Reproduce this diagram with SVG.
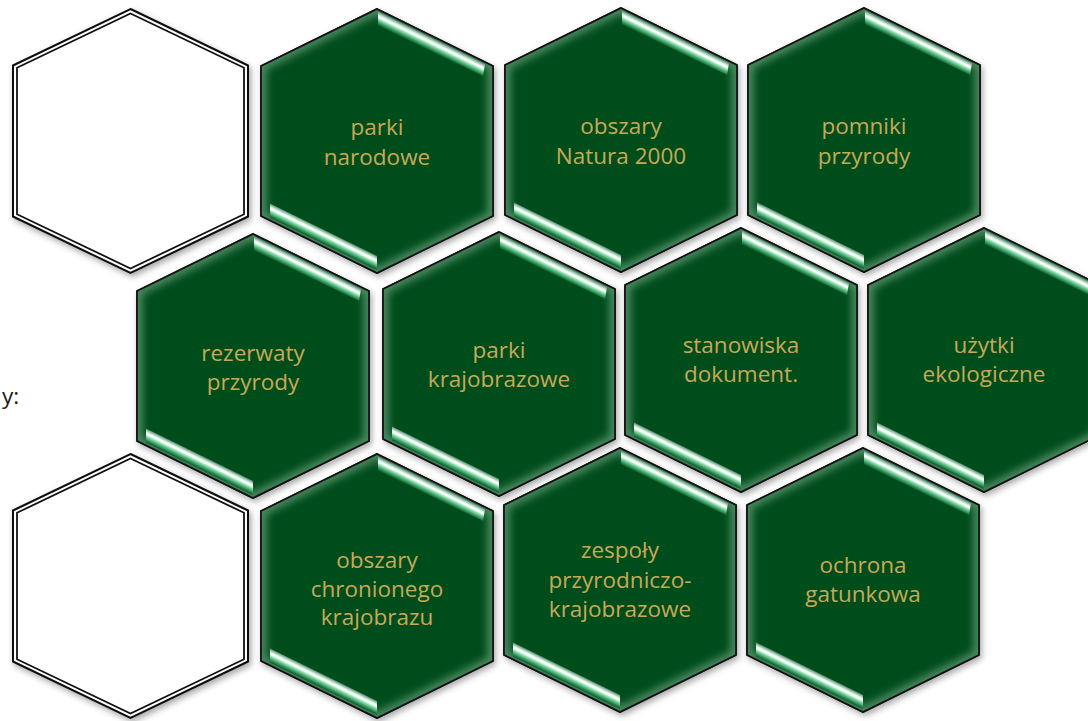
<svg xmlns="http://www.w3.org/2000/svg" width="1088" height="721" viewBox="0 0 1088 721">
<defs>
  <style>
    .hex{fill:#044e1f;stroke:#111;stroke-width:1.6}
    .glow{fill:none;stroke:#b9e3c6;stroke-width:10;opacity:0.45}
    .wout{fill:#fff;stroke:#111;stroke-width:2}
    .win{fill:none;stroke:#111;stroke-width:1.8}
    .lbl{font-family:"Open Sans","Liberation Sans",sans-serif;font-size:22.5px;fill:#c8a958;text-anchor:middle}
    .side{font-family:"Open Sans","Liberation Sans",sans-serif;font-size:22.5px;fill:#1a1a1a}
  </style>
  <polygon id="hexshape" points="0,-132 116,-75 116,75 0,132 -116,75 -116,-75"/>
  <clipPath id="hexclip" clipPathUnits="userSpaceOnUse">
    <use href="#hexshape"/>
  </clipPath>
  <filter id="shadow" x="-20%" y="-20%" width="140%" height="140%">
    <feDropShadow dx="2" dy="3" stdDeviation="3" flood-color="#000" flood-opacity="0.35"/>
  </filter>
  <filter id="blur" x="-20%" y="-20%" width="140%" height="140%">
    <feGaussianBlur stdDeviation="4"/>
  </filter>
  <linearGradient id="gup" gradientUnits="userSpaceOnUse" x1="54" y1="-103.5" x2="48.45" y2="-92.2">
    <stop offset="0" stop-color="#5d8c72"/>
    <stop offset="0.28" stop-color="#e6fff0"/>
    <stop offset="0.4" stop-color="#ffffff"/>
    <stop offset="0.55" stop-color="#8fe0b0"/>
    <stop offset="0.8" stop-color="#34975c"/>
    <stop offset="1" stop-color="#0a5628"/>
  </linearGradient>
  <linearGradient id="gdn" gradientUnits="userSpaceOnUse" x1="-58" y1="86.5" x2="-63.55" y2="97.8">
    <stop offset="0" stop-color="#5d8c72"/>
    <stop offset="0.28" stop-color="#e6fff0"/>
    <stop offset="0.4" stop-color="#ffffff"/>
    <stop offset="0.55" stop-color="#8fe0b0"/>
    <stop offset="0.8" stop-color="#34975c"/>
    <stop offset="1" stop-color="#0a5628"/>
  </linearGradient>
  <g id="greenhex">
    <use href="#hexshape" class="hex" filter="url(#shadow)"/>
    <g clip-path="url(#hexclip)">
      <use href="#hexshape" class="glow" filter="url(#blur)"/>
    </g>
    <use href="#hexshape" fill="none" stroke="#111" stroke-width="1.6"/>
    <polygon points="1,-129.5 108,-77 106,-64.9 1,-115.5" fill="url(#gup)"/>
    <polygon points="-107,62.4 0,115 0,129 -107,76.4" fill="url(#gdn)"/>
  </g>
  <g id="whitehex">
    <polygon class="wout" filter="url(#shadow)" points="0,-132 117.5,-75.5 117.5,75.5 0,132 -117.5,75.5 -117.5,-75.5"/>
    <polygon class="win" points="0,-127.5 113.5,-73.2 113.5,73.2 0,127.5 -113.5,73.2 -113.5,-73.2"/>
  </g>
</defs>
<rect width="1088" height="721" fill="#fff"/>

<g id="blank-1"><use href="#whitehex" transform="translate(130.5,141)"/></g>
<g id="parki-narodowe">
  <use href="#greenhex" transform="translate(377,141)"/>
  <text class="lbl" x="377" y="135">parki</text>
  <text class="lbl" x="377" y="165">narodowe</text>
</g>
<g id="natura-2000">
  <use href="#greenhex" transform="translate(621,140)"/>
  <text class="lbl" x="621" y="134">obszary</text>
  <text class="lbl" x="621" y="164">Natura 2000</text>
</g>
<g id="pomniki-przyrody">
  <use href="#greenhex" transform="translate(864,140)"/>
  <text class="lbl" x="864" y="134">pomniki</text>
  <text class="lbl" x="864" y="164">przyrody</text>
</g>

<g id="rezerwaty-przyrody">
  <use href="#greenhex" transform="translate(253,366)"/>
  <text class="lbl" x="253" y="361">rezerwaty</text>
  <text class="lbl" x="253" y="390">przyrody</text>
</g>
<g id="parki-krajobrazowe">
  <use href="#greenhex" transform="translate(499,364)"/>
  <text class="lbl" x="499" y="358">parki</text>
  <text class="lbl" x="499" y="387">krajobrazowe</text>
</g>
<g id="stanowiska-dokumentacyjne">
  <use href="#greenhex" transform="translate(741,360)"/>
  <text class="lbl" x="741" y="353">stanowiska</text>
  <text class="lbl" x="741" y="382">dokument.</text>
</g>
<g id="uzytki-ekologiczne">
  <use href="#greenhex" transform="translate(984,360)"/>
  <text class="lbl" x="984" y="353">użytki</text>
  <text class="lbl" x="984" y="382">ekologiczne</text>
</g>

<g id="blank-2"><use href="#whitehex" transform="translate(130.5,586)"/></g>
<g id="obszary-chronionego-krajobrazu">
  <use href="#greenhex" transform="translate(377,586)"/>
  <text class="lbl" x="377" y="568">obszary</text>
  <text class="lbl" x="377" y="597">chronionego</text>
  <text class="lbl" x="377" y="625">krajobrazu</text>
</g>
<g id="zespoly-przyrodniczo-krajobrazowe">
  <use href="#greenhex" transform="translate(620,580)"/>
  <text class="lbl" x="620" y="558">zespoły</text>
  <text class="lbl" x="620" y="588">przyrodniczo-</text>
  <text class="lbl" x="620" y="617">krajobrazowe</text>
</g>
<g id="ochrona-gatunkowa">
  <use href="#greenhex" transform="translate(863,580)"/>
  <text class="lbl" x="863" y="573">ochrona</text>
  <text class="lbl" x="863" y="602">gatunkowa</text>
</g>

<text class="side" x="2" y="404">y:</text>
<g id="connectors"/>
</svg>
